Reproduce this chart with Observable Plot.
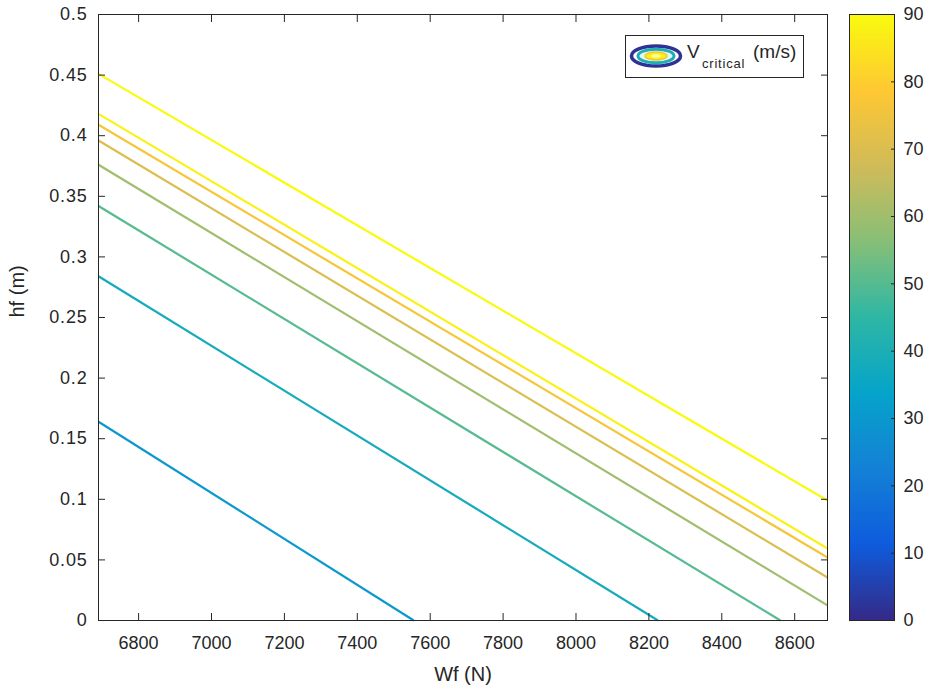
<!DOCTYPE html>
<html>
<head>
<meta charset="utf-8">
<script src="https://cdn.jsdelivr.net/npm/d3@7"></script>
<script src="https://cdn.jsdelivr.net/npm/@observablehq/plot@0.6"></script>
<style>
  html, body { margin: 0; padding: 0; background: #fff; }
  #chart { position: relative; width: 930px; height: 693px; }
  #chart svg { position: absolute; top: 0; }
</style>
</head>
<body>
<div id="chart"></div>
<script>
// Contour levels of the critical speed V (m/s), lowest to highest
const levels = [30, 38, 50, 60, 70, 77, 88, 90];
// Start and end of each contour line: Wf (N) and hf (m)
const wfStart = [6690, 6690, 6690, 6690, 6690, 6690, 6690, 6690];
const hfStart = [0.164, 0.284, 0.342, 0.376, 0.396, 0.409, 0.418, 0.451];
const wfEnd = [7555, 8225, 8561, 8690, 8690, 8690, 8690, 8690];
const hfEnd = [0, 0, 0, 0.0125, 0.0355, 0.052, 0.0594, 0.099];

const xTicks = [6800, 7000, 7200, 7400, 7600, 7800, 8000, 8200, 8400, 8600];
const yTicks = [0, 0.05, 0.1, 0.15, 0.2, 0.25, 0.3, 0.35, 0.4, 0.45, 0.5];
const cbarTicks = [0, 10, 20, 30, 40, 50, 60, 70, 80, 90];

// parula colour map stops
const parula = ["#352a87", "#0f5cdd", "#1481d6", "#06a4ca", "#2eb7a4",
                "#87bf77", "#d1bb59", "#fec832", "#f9fb0e"];
const interp = d3.piecewise(d3.interpolateRgb, parula);
const color = {type: "linear", domain: [0, 90], interpolate: interp};

const font = "'Liberation Sans', Arial, Helvetica, sans-serif";
const ink = "#262626";

const contours = levels.map((v, i) => ({
  v, x1: wfStart[i], y1: hfStart[i], x2: wfEnd[i], y2: hfEnd[i]
}));

const fmt = d => String(+d.toFixed(2));

const main = Plot.plot({
  width: 930, height: 693,
  marginLeft: 98, marginRight: 103, marginTop: 14, marginBottom: 73,
  style: {fontFamily: font, fontSize: "18px", color: ink, background: "transparent"},
  x: {domain: [6690, 8690]},
  y: {domain: [0, 0.5]},
  color,
  marks: [
    Plot.link(contours, {x1: "x1", y1: "y1", x2: "x2", y2: "y2", stroke: "v", strokeWidth: 2.2}),
    Plot.frame({stroke: ink}),
    Plot.axisX(xTicks, {anchor: "bottom", tickSize: -7, tickPadding: 23, tickFormat: d => String(d), label: null}),
    Plot.axisX(xTicks, {anchor: "top", tickSize: -7, tickFormat: () => "", label: null}),
    Plot.axisY(yTicks, {anchor: "left", tickSize: -7, tickPadding: 18, tickFormat: fmt, label: null}),
    Plot.axisY(yTicks, {anchor: "right", tickSize: -7, tickFormat: () => "", label: null}),
    Plot.text(["Wf (N)"], {frameAnchor: "bottom", dy: 60, fontSize: 20}),
    Plot.text(["hf (m)"], {frameAnchor: "left", dx: -81, rotate: -90, fontSize: 20})
  ]
});
main.style.left = "0px";

// slightly looser spacing on the decimal tick labels
d3.select(main).selectAll('g[aria-label="y-axis tick label"] text').attr("letter-spacing", "0.8px");

// Legend box with nested-ellipse contour symbol
const svg = d3.select(main);
const lg = svg.append("g").attr("font-family", font).attr("fill", ink).attr("text-anchor", "start");
lg.append("rect").attr("x", 625.5).attr("y", 35.5).attr("width", 178).attr("height", 42)
  .attr("fill", "#fff").attr("stroke", ink);
lg.append("ellipse").attr("cx", 656).attr("cy", 56).attr("rx", 24.5).attr("ry", 10)
  .attr("fill", "#fff").attr("stroke", interp(0.02)).attr("stroke-width", 3.5);
lg.append("ellipse").attr("cx", 656).attr("cy", 56).attr("rx", 18).attr("ry", 6.8)
  .attr("fill", "#e8f6f2").attr("stroke", interp(0.45)).attr("stroke-width", 3);
lg.append("ellipse").attr("cx", 656).attr("cy", 56).attr("rx", 11).attr("ry", 4)
  .attr("fill", interp(0.97)).attr("stroke", interp(0.85)).attr("stroke-width", 1.5);
lg.append("ellipse").attr("cx", 656).attr("cy", 56).attr("rx", 5).attr("ry", 1.8)
  .attr("fill", "#fbfb9a");
const label = lg.append("text").attr("x", 687).attr("y", 58).attr("font-size", 19);
label.append("tspan").text("V");
label.append("tspan").attr("x", 702).attr("dy", 10).attr("font-size", 13)
  .attr("letter-spacing", "0.8px").text("critical");
label.append("tspan").attr("x", 753).attr("dy", -10).text("(m/s)");

// Colour bar
const cbarStep = 0.25;
const cbarCells = d3.range(0, 90, cbarStep);
const bar = Plot.plot({
  width: 81, height: 693,
  marginLeft: 0, marginRight: 36, marginTop: 14, marginBottom: 73,
  style: {fontFamily: font, fontSize: "18px", color: ink, background: "transparent"},
  x: {domain: [0, 1], axis: null},
  y: {domain: [0, 90]},
  color,
  marks: [
    Plot.rect(cbarCells, {x1: 0, x2: 1, y1: d => d, y2: d => Math.min(90, d + 2 * cbarStep), fill: d => d + cbarStep / 2}),
    Plot.frame({stroke: ink}),
    Plot.axisY(cbarTicks, {anchor: "right", tickSize: -4, tickPadding: 13, label: null})
  ]
});
bar.style.left = "849px";

const chart = document.getElementById("chart");
chart.append(main, bar);
</script>
</body>
</html>
